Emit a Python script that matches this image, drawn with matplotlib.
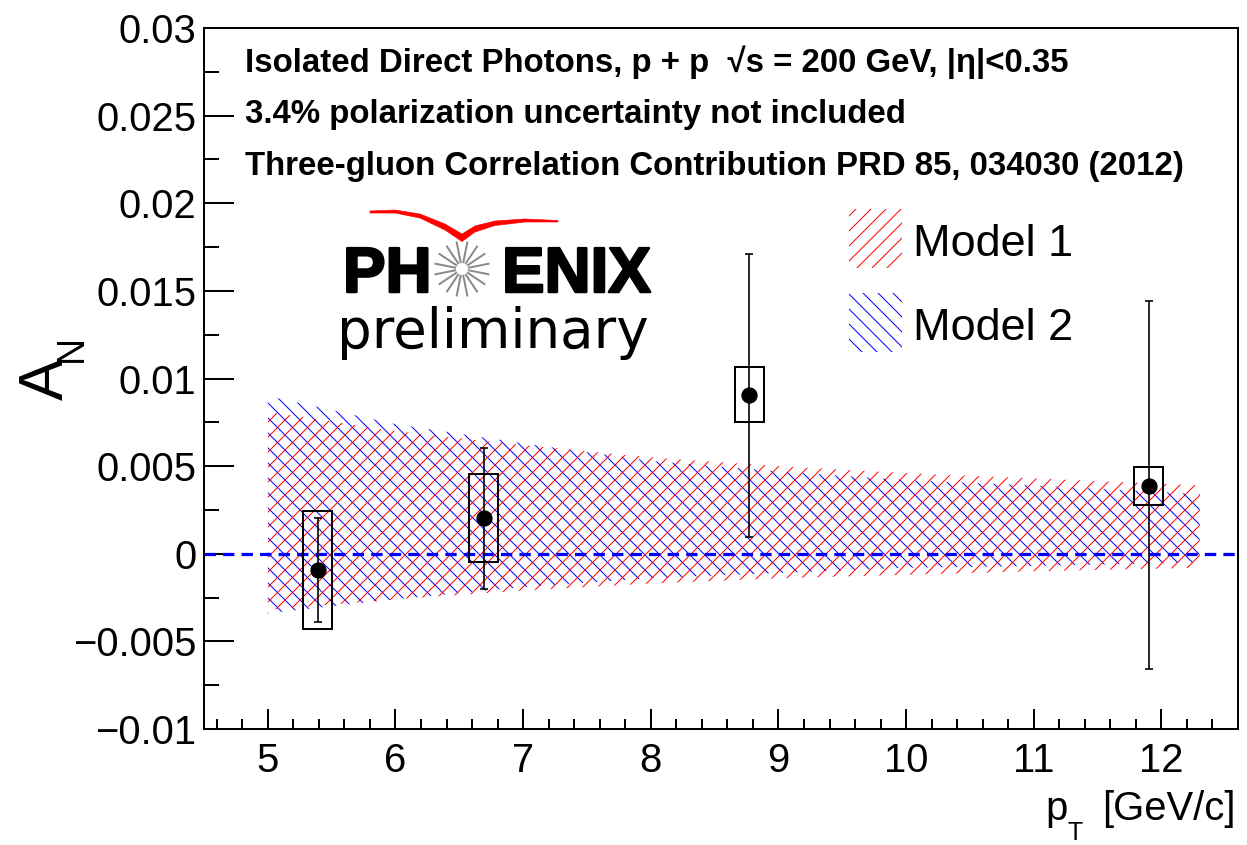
import numpy as np
import matplotlib
matplotlib.use("Agg")
import matplotlib.pyplot as plt
from matplotlib.patches import Rectangle, Polygon
from matplotlib.ticker import MultipleLocator, FixedLocator, FixedFormatter
import matplotlib.patheffects as pe

# ---------------- data ----------------
pt = [5.39, 6.69, 8.77, 11.90]
an = [-0.00093, 0.00206, 0.00906, 0.00387]
stat_lo = [-0.00388, -0.00201, 0.00096, -0.00658]
stat_hi = [0.00206, 0.00605, 0.01710, 0.01442]
sys_lo = [-0.00429, -0.00047, 0.00752, 0.00278]
sys_hi = [0.00244, 0.00453, 0.01066, 0.00495]

band_x = [5.0, 6.0, 7.0, 8.0, 9.0, 10.0, 11.0, 12.3]
model1_hi = [0.0081, 0.0070, 0.0062, 0.0055, 0.0050, 0.0046, 0.0043, 0.0039]
model1_lo = [-0.0032, -0.0026, -0.0021, -0.0017, -0.0014, -0.0012, -0.0010, -0.0008]
model2_hi = [0.0090, 0.0074, 0.0063, 0.0053, 0.0047, 0.0042, 0.0039, 0.0034]
model2_lo = [-0.0034, -0.0026, -0.0019, -0.0014, -0.0011, -0.0008, -0.0007, -0.0005]

xticks = [5, 6, 7, 8, 9, 10, 11, 12]
xtick_labels = ["5", "6", "7", "8", "9", "10", "11", "12"]
yticks = [-0.01, -0.005, 0.0, 0.005, 0.01, 0.015, 0.02, 0.025, 0.03]
ytick_labels = ["\u22120.01", "\u22120.005", "0", "0.005", "0.01", "0.015", "0.02", "0.025", "0.03"]

info_lines = ["Isolated Direct Photons, p + p  \u221As = 200 GeV, |\u03b7|<0.35",
              "3.4% polarization uncertainty not included",
              "Three-gluon Correlation Contribution PRD 85, 034030 (2012)"]
legend_labels = ["Model 1", "Model 2"]

# ---------------- style ----------------
W, H, DPI = 1247, 845, 90
plt.rcParams["font.family"] = ["Liberation Sans", "DejaVu Sans"]
plt.rcParams["hatch.linewidth"] = 0.8

fig = plt.figure(figsize=(W / DPI, H / DPI), dpi=DPI)
ax = fig.add_axes([204 / W, 1 - 729 / H, (1238 - 204) / W, (729 - 28) / H])

ax.fill_between(band_x, model2_lo, model2_hi, facecolor="none", edgecolor="blue",
                hatch="\\\\", linewidth=0, zorder=1)
ax.fill_between(band_x, model1_lo, model1_hi, facecolor="none", edgecolor="red",
                hatch="//", linewidth=0, zorder=1.1)
ax.axhline(0, color="blue", lw=2.6, dashes=(3.5, 2.2), zorder=2)

for x, lo, hi in zip(pt, sys_lo, sys_hi):
    ax.add_patch(Rectangle((x - 0.113, lo), 0.226, hi - lo, fill=False,
                           ec="black", lw=1.6, zorder=3))

an_a = np.array(an)
yerr = [an_a - np.array(stat_lo), np.array(stat_hi) - an_a]
ax.errorbar(pt, an, yerr=yerr, fmt="o", color="black", ms=12, capsize=3.5,
            elinewidth=1.3, capthick=1.3, zorder=4)

ax.set_xlim(4.5, 12.6)
ax.set_ylim(-0.01, 0.03)
ax.xaxis.set_major_locator(FixedLocator(xticks))
ax.xaxis.set_major_formatter(FixedFormatter(xtick_labels))
ax.xaxis.set_minor_locator(MultipleLocator(0.2))
ax.yaxis.set_major_locator(FixedLocator(yticks))
ax.yaxis.set_major_formatter(FixedFormatter(ytick_labels))
ax.yaxis.set_minor_locator(MultipleLocator(0.0025))
ax.tick_params(axis="x", which="major", direction="in", length=16, width=1.6,
               labelsize=32, pad=10, top=False)
ax.tick_params(axis="x", which="minor", direction="in", length=8, width=1.6, top=False)
ax.tick_params(axis="y", which="major", direction="in", length=24, width=1.6,
               labelsize=32, pad=6, right=False)
ax.tick_params(axis="y", which="minor", direction="in", length=12, width=1.6, right=False)
for s in ax.spines.values():
    s.set_linewidth(1.6)

# ---------------- overlay in pixel coordinates ----------------
ov = fig.add_axes([0, 0, 1, 1], facecolor="none")
ov.set_xlim(0, W)
ov.set_ylim(H, 0)
ov.axis("off")

for txt, yb in zip(info_lines, [72, 123.5, 175]):
    ov.text(245, yb, txt, fontsize=26.4, fontweight="bold", va="baseline", ha="left")

# legend
for (y0, col, hat), lab, yb in zip([(209, "red", "//"), (293, "blue", "\\\\")],
                                   legend_labels, [256, 340]):
    ov.add_patch(Rectangle((849, y0), 53, 59, facecolor="none", edgecolor=col,
                           hatch=hat, linewidth=0))
    ov.text(913, yb, lab, fontsize=36, va="baseline", ha="left")

# axis labels
ov.text(63, 400, "A", fontsize=50, rotation=90, rotation_mode="anchor",
        ha="left", va="baseline")
ov.text(82, 362, "N", fontsize=30, rotation=90, rotation_mode="anchor",
        ha="left", va="baseline")
ov.text(1045, 820, "p", fontsize=32, ha="left", va="baseline")
ov.text(1068, 840, "T", fontsize=20, ha="left", va="baseline")
ov.text(1236, 820, "[GeV/c]", fontsize=32, ha="right", va="baseline")

# PHENIX logo
stroke = [pe.withStroke(linewidth=2, foreground="black")]
ov.text(343, 292, "PH", fontsize=51, fontweight="bold", ha="left", va="baseline",
        path_effects=stroke)
ov.text(502, 292, "ENIX", fontsize=51, fontweight="bold", ha="left", va="baseline",
        path_effects=stroke)
cx, cy = 462, 269
for k in range(16):
    a = np.deg2rad(k * 22.5 + 11.25)
    ov.plot([cx + 6 * np.cos(a), cx + 28 * np.cos(a)],
            [cy + 6 * np.sin(a), cy + 28 * np.sin(a)], color="#8a8a8a", lw=1.6,
            solid_capstyle="butt")
upper = [(370, 211), (395, 210), (420, 214), (445, 224), (462, 234),
         (475, 226), (495, 221), (525, 219), (558, 220.5)]
lower = [(558, 222), (525, 222), (495, 225.5), (475, 232), (462, 241.5),
         (445, 230), (420, 218), (395, 213), (370, 213)]
ov.add_patch(Polygon(upper + lower, closed=True, facecolor="red", edgecolor="red", lw=0.5))
ov.text(337, 348, "preliminary", fontsize=43.8, family="DejaVu Sans",
        ha="left", va="baseline")

fig.savefig("out.png", dpi=DPI)
